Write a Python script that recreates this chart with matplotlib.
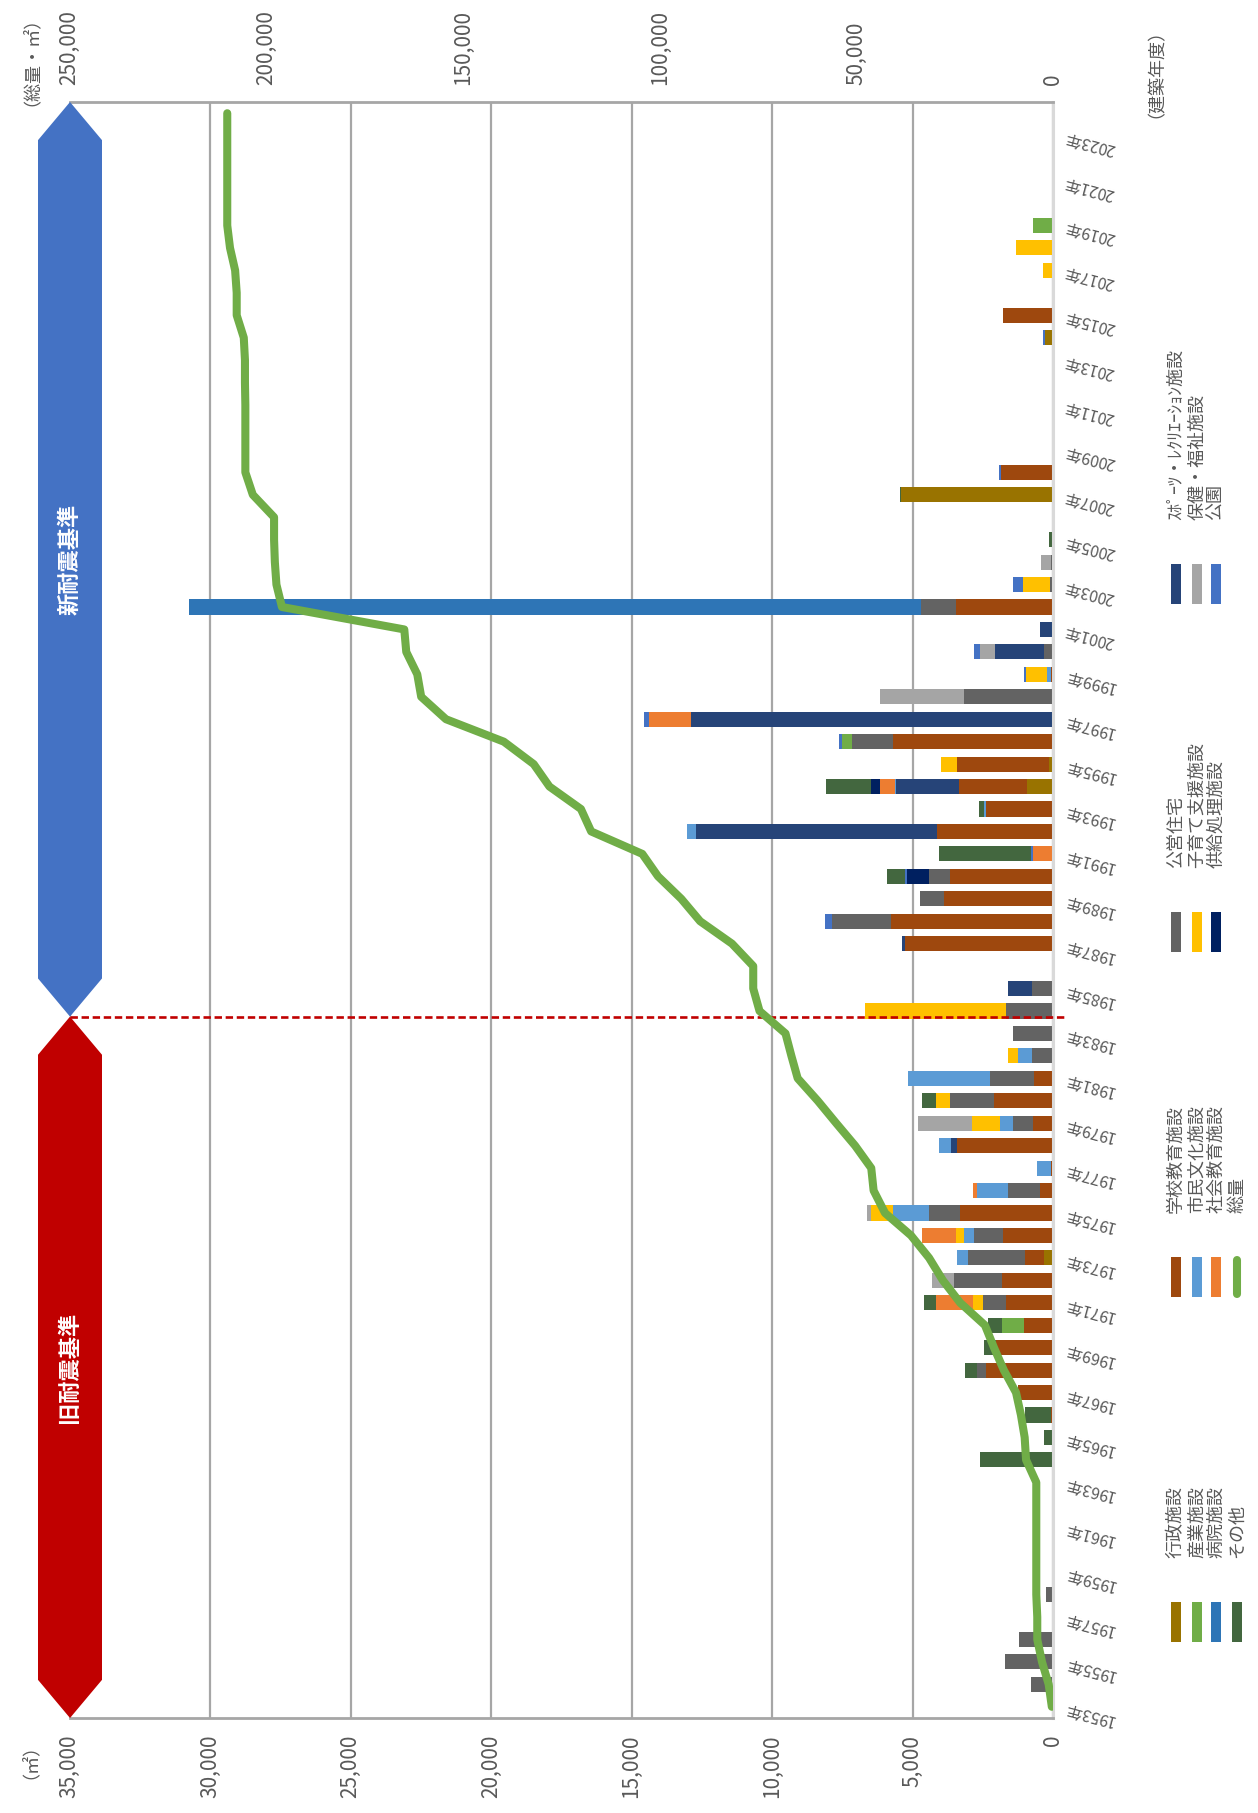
import matplotlib
matplotlib.use("Agg")
import matplotlib.pyplot as plt
import matplotlib.ticker as mticker
import matplotlib.transforms as mtransforms
from matplotlib.patches import Polygon, Rectangle
from matplotlib.lines import Line2D

plt.rcParams["font.family"] = ["Noto Sans CJK JP", "DejaVu Sans"]

# DATA (m2 per construction year)
years = list(range(1953, 2025))

gyosei = {1973: 330, 1994: 910, 1995: 150, 2007: 5400, 2014: 290}
gakko = {1966: 60, 1967: 1240, 1968: 2390, 1969: 2020, 1970: 1030, 1971: 1690,
         1972: 1810, 1973: 660, 1974: 1770, 1975: 3300, 1976: 450, 1977: 80,
         1978: 3420, 1979: 700, 1980: 2100, 1981: 660, 1987: 5280, 1988: 5770,
         1989: 3870, 1990: 3670, 1992: 4120, 1993: 2390, 1994: 2430, 1995: 3260,
         1996: 5690, 1999: 60, 2002: 3460, 2008: 1850, 2012: 30, 2015: 1770}
koei = {1954: 800, 1955: 1700, 1956: 1200, 1958: 250, 1968: 330, 1971: 800,
        1972: 1730, 1973: 2020, 1974: 1030, 1975: 1110, 1976: 1150, 1979: 740,
        1980: 1570, 1981: 1570, 1982: 740, 1983: 1440, 1984: 1690, 1985: 740,
        1988: 2100, 1989: 870, 1990: 740, 1996: 1480, 1998: 3170, 2000: 330,
        2002: 1240, 2003: 100, 2004: 80}
sports = {1978: 200, 1985: 870, 1987: 80, 1992: 8570, 1994: 2230, 1997: 12900,
          2000: 1730, 2001: 450}
sangyo = {1970: 780, 1996: 330, 2019: 700}
shimin = {1973: 410, 1974: 370, 1975: 1280, 1976: 1110, 1977: 500, 1978: 450,
          1979: 450, 1981: 2930, 1982: 490, 1992: 330, 1993: 80, 1994: 60, 1999: 160}
kosodate = {1971: 370, 1974: 290, 1975: 780, 1979: 990, 1980: 490, 1982: 370,
            1984: 4990, 1995: 580, 1999: 740, 2003: 950, 2017: 370, 2018: 1320}
hoken = {1972: 780, 1975: 165, 1979: 1940, 1998: 2970, 2000: 540, 2004: 350}
byoin = {2002: 26050}
shakai = {1971: 1320, 1974: 1200, 1976: 120, 1991: 700, 1994: 540, 1997: 1480}
kyokyu = {1990: 780, 1994: 290}
koen = {1988: 250, 1990: 80, 1991: 80, 1996: 120, 1997: 165, 1999: 80, 2000: 200,
        2003: 370, 2008: 60, 2014: 60}
sonota = {1964: 2600, 1965: 330, 1966: 950, 1968: 410, 1969: 450, 1970: 490,
          1971: 410, 1980: 490, 1990: 620, 1991: 3260, 1993: 150, 1994: 1610,
          2005: 150, 2007: 40}

# cumulative total (secondary axis), 1953-2024
total = [300, 1100, 2800, 4000, 4000, 4250, 4250, 4250, 4250, 4250, 4250,
         6850, 7200, 8150, 9400, 12500, 15000, 17300,
         23600, 28000, 31500, 36100, 42700, 45600, 46200, 50300, 55100, 59800,
         64900, 66500, 68000, 74600, 76200, 76200, 81600, 89700, 94500, 100400,
         104400, 117400, 120000, 128000, 132000, 139600, 154300, 160600, 161600, 164400,
         164900, 196000, 197400, 197800, 198000, 198000, 203400, 205300, 205300, 205300,
         205300, 205400, 205400, 205700, 207500, 207500, 207900, 209200, 209900, 209900,
         209900, 209900, 209900, 209900]

# stack order (base first)
series = [
    ("行政施設", gyosei, "#997300"),
    ("学校教育施設", gakko, "#9E480E"),
    ("公営住宅", koei, "#636363"),
    ("ｽﾎﾟｰﾂ・ﾚｸﾘｴｰｼｮﾝ施設", sports, "#264478"),
    ("産業施設", sangyo, "#70AD47"),
    ("市民文化施設", shimin, "#5B9BD5"),
    ("子育て支援施設", kosodate, "#FFC000"),
    ("保健・福祉施設", hoken, "#A5A5A5"),
    ("病院施設", byoin, "#2E75B6"),
    ("社会教育施設", shakai, "#ED7D31"),
    ("供給処理施設", kyokyu, "#002060"),
    ("公園", koen, "#4472C4"),
    ("その他", sonota, "#43673F"),
]
line_name = "総量"
line_color = "#70AD47"

legend_rows = [
    ["行政施設", "学校教育施設", "公営住宅", "ｽﾎﾟｰﾂ・ﾚｸﾘｴｰｼｮﾝ施設"],
    ["産業施設", "市民文化施設", "子育て支援施設", "保健・福祉施設"],
    ["病院施設", "社会教育施設", "供給処理施設", "公園"],
    ["その他", "総量"],
]

TXT = "#595959"
W, H = 1258, 1813


def fx(x):
    return x / W


def fy(y):
    return 1 - y / H


fig = plt.figure(figsize=(W / 100, H / 100), dpi=100)
ax = fig.add_axes([fx(69.5), fy(1718), (1053 - 69.5) / W, (1718 - 102) / H])

idx = list(range(len(years)))
base = [0.0] * len(years)
for name, d, color in series:
    vals = [d.get(y, 0) for y in years]
    ax.barh(idx, vals, left=base, height=0.67, color=color, linewidth=0, zorder=2)
    base = [b + v for b, v in zip(base, vals)]

ax.set_xlim(35000, 0)
ax.set_ylim(-0.5, len(years) - 0.5)
ax.xaxis.set_major_locator(mticker.MultipleLocator(5000))
ax.xaxis.set_major_formatter(mticker.FuncFormatter(lambda v, p: f"{int(v):,}"))
ax.grid(axis="x", color="#A6A6A6", linewidth=1.6, zorder=0)
ax.set_axisbelow(True)
ax.set_yticks([])
ax.tick_params(axis="x", length=0, pad=12, labelsize=15, labelcolor=TXT,
               labelrotation=90)
for s in ["top", "bottom"]:
    ax.spines[s].set_color("#A6A6A6")
    ax.spines[s].set_linewidth(2)
ax.spines["left"].set_visible(False)
ax.spines["right"].set_color("#D9D9D9")
ax.spines["right"].set_linewidth(2.2)

# year labels
yt = mtransforms.blended_transform_factory(ax.transAxes, ax.transData)
for i, y in enumerate(years):
    if y % 2 == 1:
        ax.text(1.012, i, f"{y}年", transform=yt, rotation=165,
                rotation_mode="anchor", ha="right", va="center",
                fontsize=11.5, color=TXT, clip_on=False)

# dashed boundary (1981 standard)
split = 30.75
ax.plot([35000, -380], [split, split], color="#C00000", linewidth=1.9,
        dashes=(2.8, 1.4), zorder=4, clip_on=False)

# secondary axis: cumulative total
ax2 = ax.twiny()
ax2.set_xlim(250000, 0)
ax2.plot(total, idx, color=line_color, linewidth=5.8, solid_joinstyle="round",
         solid_capstyle="round", zorder=5)
ax2.xaxis.set_major_locator(mticker.MultipleLocator(50000))
ax2.xaxis.set_major_formatter(mticker.FuncFormatter(lambda v, p: f"{int(v):,}"))
ax2.tick_params(axis="x", length=0, pad=12, labelsize=15, labelcolor=TXT,
                labelrotation=90)
for s in ax2.spines.values():
    s.set_visible(False)

# banners
bt = mtransforms.blended_transform_factory(fig.transFigure, ax.transData)
xl, xr, xc = fx(38), fx(102), fx(70)
tp = 1.7
top, bot = len(years) - 0.5, -0.5
blue = [(xc, top), (xr, top - tp), (xr, split + tp), (xc, split),
        (xl, split + tp), (xl, top - tp)]
red = [(xc, split), (xr, split - tp), (xr, bot + tp), (xc, bot),
       (xl, bot + tp), (xl, split - tp)]
fig.add_artist(Polygon(blue, closed=True, facecolor="#4472C4", edgecolor="none",
                       transform=bt))
fig.add_artist(Polygon(red, closed=True, facecolor="#C00000", edgecolor="none",
                       transform=bt))
fig.text(xc, (top + split) / 2, "新耐震基準", transform=bt, rotation=90,
         ha="center", va="center", fontsize=16, fontweight="bold", color="white")
fig.text(xc, (split + bot) / 2, "旧耐震基準", transform=bt, rotation=90,
         ha="center", va="center", fontsize=16, fontweight="bold", color="white")

# axis titles
fig.text(fx(22), fy(52), "（総量・㎡）", rotation=90, ha="center", va="center",
         fontsize=13, color=TXT)
fig.text(fx(21), fy(1752), "（㎡）", rotation=90, ha="center", va="center",
         fontsize=13, color=TXT)
fig.text(fx(1147), fy(64), "（建築年度）", rotation=90, ha="center", va="center",
         fontsize=13, color=TXT)

# legend (drawn rotated)
colors = {n: c for n, d, c in series}
row_x = [1176, 1197, 1216, 1237]
key_top = [1602, 1257, 912, 564]
key_len = 40
for r, row in enumerate(legend_rows):
    for g, name in enumerate(row):
        x = row_x[r]
        t = key_top[g]
        if name == line_name:
            fig.add_artist(Line2D([fx(x), fx(x)], [fy(t + 3), fy(t + key_len - 3)],
                                  color=line_color, linewidth=5.8,
                                  solid_capstyle="round", transform=fig.transFigure))
        else:
            fig.add_artist(Rectangle((fx(x - 5), fy(t + key_len)), 10 / W, key_len / H,
                                     facecolor=colors[name], edgecolor="none",
                                     transform=fig.transFigure))
        fig.text(fx(x), fy(t - 44), name, rotation=90, ha="center", va="bottom",
                 fontsize=13, color=TXT)

fig.savefig("out.png", dpi=100)
